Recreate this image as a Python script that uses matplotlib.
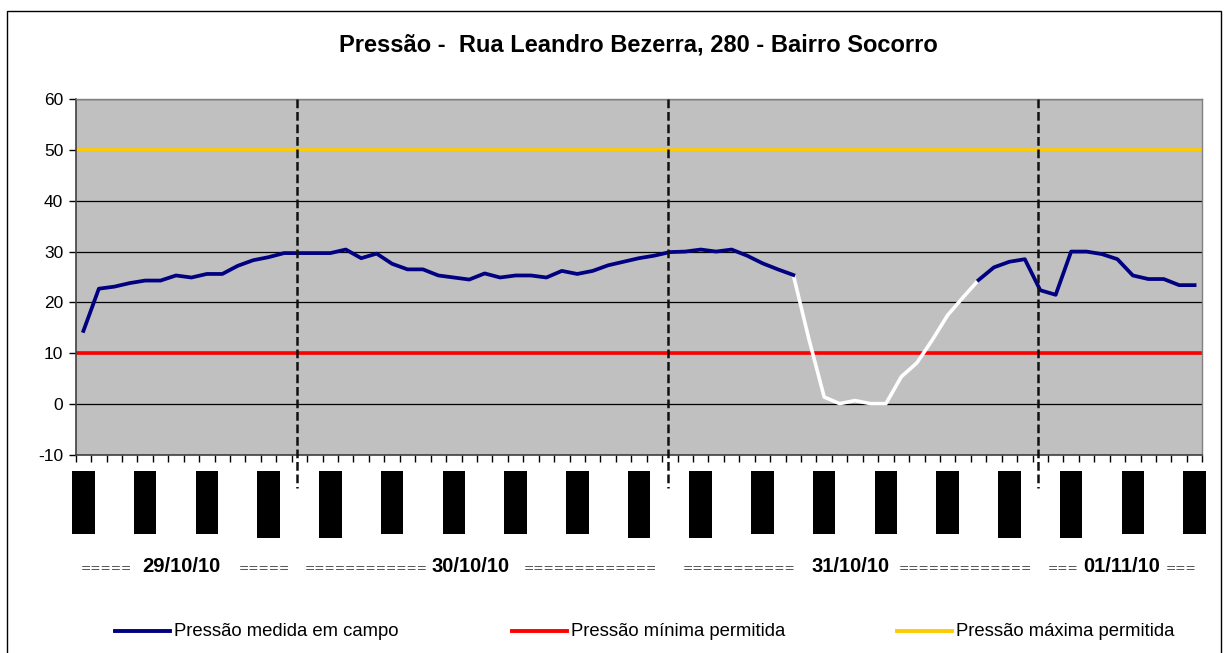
import matplotlib
matplotlib.use("Agg")
import matplotlib.pyplot as plt
from matplotlib.patches import Rectangle
from matplotlib.lines import Line2D

# leituras horarias de pressao (mca), de 29/10/10 a 01/11/10
pressao = [14.4, 22.7, 23.1, 23.8, 24.3, 24.3, 25.3, 24.9, 25.6, 25.6,
           27.2, 28.3, 28.9, 29.7, 29.7, 29.7, 29.7, 30.4, 28.7, 29.6,
           27.6, 26.5, 26.5, 25.3, 24.9, 24.5, 25.7, 24.9, 25.3, 25.3,
           24.9, 26.2, 25.6, 26.2, 27.3, 28.0, 28.7, 29.2, 29.9, 30.0,
           30.4, 30.0, 30.4, 29.2, 27.7, 26.5, 25.4, 12.9, 1.4, 0.1,
           0.7, 0.1, 0.1, 5.4, 8.1, 12.6, 17.5, 21.0, 24.4, 26.9,
           28.0, 28.5, 22.4, 21.5, 30.0, 30.0, 29.5, 28.5, 25.3, 24.6,
           24.6, 23.4, 23.4]
# trecho em branco (falha / sem medicao confiavel)
trecho_branco = (46, 58)

p_min = 10
p_max = 50
yticks = [-10, 0, 10, 20, 30, 40, 50, 60]

# divisao dos dias (linhas tracejadas) e marcas de hora
dias_quebra = [13.85, 37.85, 61.85]
faixas = list(range(0, 73, 4))
faixas_altas = [12, 16, 36, 40, 60, 64]

rotulos_dias = [
    (106, "=====", False), (181, "29/10/10", True), (264, "=====", False),
    (366, "============", False), (471, "30/10/10", True), (590, "=============", False),
    (739, "===========", False), (851, "31/10/10", True), (965, "=============", False),
    (1063, "===", False), (1122, "01/11/10", True), (1181, "===", False),
]

W, H = 1227, 653
fig = plt.figure(figsize=(W / 100, H / 100), dpi=100)
plt.rcParams['font.family'] = ['Liberation Sans', 'DejaVu Sans']
plt.rcParams['axes.unicode_minus'] = False

# moldura externa
fig.add_artist(Rectangle((7 / W, 1 - 660 / H), 1214 / W, 649 / H, transform=fig.transFigure,
                         fill=False, edgecolor='black', linewidth=1.0))

ax = fig.add_axes([75.7 / W, 1 - 455 / H, 1126.6 / W, 356 / H])
ax.set_facecolor('#C0C0C0')
n = len(pressao)
x = list(range(n))

for v in yticks:
    ax.axhline(v, color='black', linewidth=0.9, zorder=1)

ax.axhline(p_max, color='#FFCC00', linewidth=2.6, zorder=2)
ax.axhline(p_min, color='#FF0000', linewidth=2.6, zorder=2)

a, b = trecho_branco
ax.plot(x[:a + 1], pressao[:a + 1], color='#000080', linewidth=2.7, zorder=4,
        solid_joinstyle='round')
ax.plot(x[b:], pressao[b:], color='#000080', linewidth=2.7, zorder=4,
        solid_joinstyle='round')
ax.plot(x[a:b + 1], pressao[a:b + 1], color='white', linewidth=2.6, zorder=3)

for d in dias_quebra:
    ax.plot([d, d], [60, -16.5], color='#111111', linestyle=(0, (3.5, 1.5)), linewidth=1.8,
            zorder=5, clip_on=False)

for f in faixas:
    base = -26.3 if f in faixas_altas else -25.5
    ax.add_patch(Rectangle((f - 0.73, base), 1.46, -13.15 - base, facecolor='black',
                           edgecolor='none', clip_on=False))

ax.set_xlim(-0.5, n - 0.5)
ax.set_ylim(-10, 60)
ax.set_yticks(yticks)
ax.set_xticks([i - 0.5 for i in range(n + 1)])
ax.set_xticklabels([])
ax.tick_params(axis='y', length=5, width=1, direction='out', labelsize=12.5, pad=4)
ax.tick_params(axis='x', length=5, width=1, direction='out')
for s in ['left', 'bottom']:
    ax.spines[s].set_color('#404040')
    ax.spines[s].set_linewidth(1.2)
for s in ['top', 'right']:
    ax.spines[s].set_color('#808080')
    ax.spines[s].set_linewidth(1.0)

fig.text(638 / W, 1 - 45 / H, "Pressão -  Rua Leandro Bezerra, 280 - Bairro Socorro",
         ha='center', va='center', fontsize=17, fontweight='bold')

for px, txt, negrito in rotulos_dias:
    if negrito:
        fig.text(px / W, 1 - 567 / H, txt, ha='center', va='center', fontsize=14.5,
                 fontweight='bold', color='black')
    else:
        fig.text(px / W, 1 - 569 / H, txt, ha='center', va='center', fontsize=8.9,
                 family='DejaVu Sans', color='#505050')

legenda = [(115, '#000080', "Pressão medida em campo"),
           (512, '#FF0000', "Pressão mínima permitida"),
           (897, '#FFCC00', "Pressão máxima permitida")]
for px, cor, txt in legenda:
    yy = 1 - 631 / H
    fig.add_artist(Line2D([px / W, (px + 55) / W], [yy, yy], color=cor, linewidth=2.8,
                          transform=fig.transFigure))
    fig.text((px + 59) / W, yy, txt, ha='left', va='center', fontsize=13.3)

fig.savefig("out.png", dpi=100)
